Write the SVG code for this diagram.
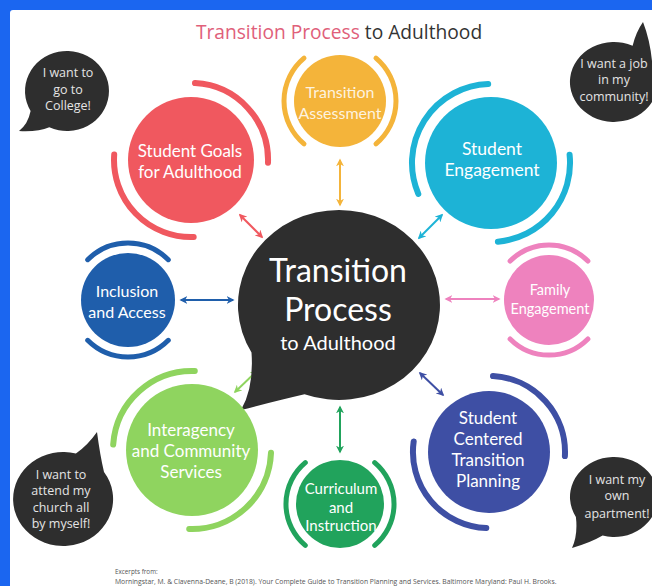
<svg xmlns="http://www.w3.org/2000/svg" width="652" height="586" viewBox="0 0 652 586">
  <style>
    .lbl { font-family: Lato, "Open Sans", "Liberation Sans", sans-serif; fill: #ffffff; text-anchor: middle; }
    .say { font-family: "Open Sans", "Noto Sans", "Liberation Sans", sans-serif; font-size: 12.5px; fill: #e4e4e4; text-anchor: middle; }
    .bub { fill: #2e2e2e; }
    .ring { fill: none; stroke-linecap: round; }
    .link { fill: none; stroke-width: 2; }
    .cite { font-family: "Open Sans", "Liberation Sans", sans-serif; fill: #555; }
  </style>
  <defs>
    <marker id="hd-yellow" viewBox="0 0 10 10" refX="8" refY="5" markerWidth="8" markerHeight="8" markerUnits="userSpaceOnUse" orient="auto-start-reverse"><path d="M0,0 L10,5 L0,10 L3,5 Z" fill="#f4b43a"/></marker>
    <marker id="hd-cyan" viewBox="0 0 10 10" refX="8" refY="5" markerWidth="8" markerHeight="8" markerUnits="userSpaceOnUse" orient="auto-start-reverse"><path d="M0,0 L10,5 L0,10 L3,5 Z" fill="#1db3d6"/></marker>
    <marker id="hd-pink" viewBox="0 0 10 10" refX="8" refY="5" markerWidth="8" markerHeight="8" markerUnits="userSpaceOnUse" orient="auto-start-reverse"><path d="M0,0 L10,5 L0,10 L3,5 Z" fill="#ee82be"/></marker>
    <marker id="hd-indigo" viewBox="0 0 10 10" refX="8" refY="5" markerWidth="8" markerHeight="8" markerUnits="userSpaceOnUse" orient="auto-start-reverse"><path d="M0,0 L10,5 L0,10 L3,5 Z" fill="#3e4fa4"/></marker>
    <marker id="hd-green" viewBox="0 0 10 10" refX="8" refY="5" markerWidth="8" markerHeight="8" markerUnits="userSpaceOnUse" orient="auto-start-reverse"><path d="M0,0 L10,5 L0,10 L3,5 Z" fill="#21a35c"/></marker>
    <marker id="hd-lime" viewBox="0 0 10 10" refX="8" refY="5" markerWidth="8" markerHeight="8" markerUnits="userSpaceOnUse" orient="auto-start-reverse"><path d="M0,0 L10,5 L0,10 L3,5 Z" fill="#8fd45f"/></marker>
    <marker id="hd-blue" viewBox="0 0 10 10" refX="8" refY="5" markerWidth="8" markerHeight="8" markerUnits="userSpaceOnUse" orient="auto-start-reverse"><path d="M0,0 L10,5 L0,10 L3,5 Z" fill="#1f5eab"/></marker>
    <marker id="hd-coral" viewBox="0 0 10 10" refX="8" refY="5" markerWidth="8" markerHeight="8" markerUnits="userSpaceOnUse" orient="auto-start-reverse"><path d="M0,0 L10,5 L0,10 L3,5 Z" fill="#f0585f"/></marker>
  </defs>

  <!-- frame -->
  <rect x="0" y="0" width="652" height="586" fill="#1b66f0"/>
  <rect x="10" y="10" width="650" height="584" rx="3" fill="#ffffff"/>

  <!-- title -->
  <text x="339" y="39" font-family="'Open Sans', 'Noto Sans', 'Liberation Sans', sans-serif" font-size="19.2" text-anchor="middle"><tspan fill="#e0607a">Transition Process</tspan><tspan fill="#333333"> to Adulthood</tspan></text>

  <!-- connectors -->
  <g id="connectors">
    <line class="link" x1="340" y1="160" x2="340" y2="205" stroke="#f4b43a" marker-start="url(#hd-yellow)" marker-end="url(#hd-yellow)"/>
    <line class="link" x1="419" y1="238" x2="442" y2="215" stroke="#1db3d6" marker-start="url(#hd-cyan)" marker-end="url(#hd-cyan)"/>
    <line class="link" x1="446" y1="299" x2="499" y2="299" stroke="#ee82be" marker-start="url(#hd-pink)" marker-end="url(#hd-pink)"/>
    <line class="link" x1="420" y1="373" x2="443" y2="395" stroke="#3e4fa4" marker-start="url(#hd-indigo)" marker-end="url(#hd-indigo)"/>
    <line class="link" x1="340" y1="407" x2="340" y2="452" stroke="#21a35c" marker-start="url(#hd-green)" marker-end="url(#hd-green)"/>
    <line class="link" x1="235" y1="392" x2="257" y2="371" stroke="#8fd45f" marker-start="url(#hd-lime)" marker-end="url(#hd-lime)"/>
    <line class="link" x1="181" y1="300" x2="233" y2="300" stroke="#1f5eab" marker-start="url(#hd-blue)" marker-end="url(#hd-blue)"/>
    <line class="link" x1="240" y1="215" x2="262" y2="237" stroke="#f0585f" marker-start="url(#hd-coral)" marker-end="url(#hd-coral)"/>
  </g>

  <!-- hub -->
  <g id="hub">
    <path class="bub" d="M251.5,352.5 Q254,388 241,410 Q276,401 304.5,394.3 A101,95 0 1 0 251.5,352.5 Z"/>
    <text class="lbl" x="338" y="282" font-size="32">Transition</text>
    <text class="lbl" x="338" y="321" font-size="32">Process</text>
    <text class="lbl" x="338" y="350" font-size="20">to Adulthood</text>
  </g>

  <g id="transition-assessment">
    <circle cx="340" cy="101" r="46" fill="#f4b43a"/>
    <path class="ring" stroke="#f4b43a" stroke-width="5" d="M304,143.9 A56,56 0 0 1 304,58.1 M376,58.1 A56,56 0 0 1 376,143.9"/>
    <text class="lbl" x="340" y="98" font-size="16" fill-opacity="0.85">Transition</text>
    <text class="lbl" x="340" y="119" font-size="16" fill-opacity="0.85">Assessment</text>
  </g>

  <g id="student-engagement">
    <circle cx="491" cy="163" r="66" fill="#1db3d6"/>
    <path class="ring" stroke="#1db3d6" stroke-width="6" d="M418.3,193.9 A79,79 0 0 1 488.2,84 M569.6,154.7 A79,79 0 0 1 497.9,241.7"/>
    <text class="lbl" x="492" y="155" font-size="17.5">Student</text>
    <text class="lbl" x="492" y="176" font-size="17.5">Engagement</text>
  </g>

  <g id="family-engagement">
    <circle cx="549" cy="300" r="45" fill="#ee82be"/>
    <path class="ring" stroke="#ee82be" stroke-width="5" d="M510.1,261.1 A55,55 0 0 1 587.9,261.1 M587.9,338.9 A55,55 0 0 1 510.1,338.9"/>
    <text class="lbl" x="550" y="295" font-size="14.5">Family</text>
    <text class="lbl" x="550" y="314" font-size="14.5">Engagement</text>
  </g>

  <g id="student-centered-planning">
    <circle cx="489" cy="452" r="61" fill="#3e4fa4"/>
    <path class="ring" stroke="#3e4fa4" stroke-width="6" d="M493,376.1 A76,76 0 0 1 564.9,456 M486.3,528 A76,76 0 0 1 413.7,441.4"/>
    <text class="lbl" x="488" y="424" font-size="17">Student</text>
    <text class="lbl" x="488" y="445" font-size="17">Centered</text>
    <text class="lbl" x="488" y="466" font-size="17">Transition</text>
    <text class="lbl" x="488" y="487" font-size="17">Planning</text>
  </g>

  <g id="curriculum-instruction">
    <circle cx="340" cy="504" r="44" fill="#21a35c"/>
    <path class="ring" stroke="#21a35c" stroke-width="5" d="M305.3,545.4 A54,54 0 0 1 305.3,462.6 M374.7,462.6 A54,54 0 0 1 374.7,545.4"/>
    <text class="lbl" x="341" y="494" font-size="15">Curriculum</text>
    <text class="lbl" x="341" y="513" font-size="15">and</text>
    <text class="lbl" x="341" y="531" font-size="15">Instruction</text>
  </g>

  <g id="interagency-services">
    <circle cx="192" cy="450" r="66" fill="#8fd45f"/>
    <path class="ring" stroke="#8fd45f" stroke-width="6" d="M113.2,444.5 A79,79 0 0 1 194.8,371 M271,452.8 A79,79 0 0 1 189.2,529"/>
    <text class="lbl" x="191" y="436" font-size="17">Interagency</text>
    <text class="lbl" x="191" y="457" font-size="17">and Community</text>
    <text class="lbl" x="191" y="478" font-size="17">Services</text>
  </g>

  <g id="inclusion-access">
    <circle cx="128" cy="300" r="47" fill="#1f5eab"/>
    <path class="ring" stroke="#1f5eab" stroke-width="5" d="M87.7,259.7 A57,57 0 0 1 168.3,259.7 M168.3,340.3 A57,57 0 0 1 87.7,340.3"/>
    <text class="lbl" x="127" y="297" font-size="16">Inclusion</text>
    <text class="lbl" x="127" y="318" font-size="16">and Access</text>
  </g>

  <g id="student-goals">
    <circle cx="191" cy="160" r="63" fill="#f0585f"/>
    <path class="ring" stroke="#f0585f" stroke-width="6" d="M195,83.1 A77,77 0 0 1 268,162.7 M193.7,237 A77,77 0 0 1 114.2,154.6"/>
    <text class="lbl" x="190" y="157" font-size="17">Student Goals</text>
    <text class="lbl" x="190" y="178" font-size="17">for Adulthood</text>
  </g>

  <!-- voices -->
  <g id="say-college">
    <path class="bub" d="M30.6,111 Q28,124 19,131 Q38,132 49.3,127.3 A42,40 0 1 0 30.6,111 Z"/>
    <text class="say" x="68" y="77">I want to</text>
    <text class="say" x="68" y="94">go to</text>
    <text class="say" x="68" y="110">College!</text>
  </g>

  <g id="say-job">
    <path class="bub" d="M632.6,45.7 Q636,32 643,22 Q650,40 652.1,62 A44,40 0 1 1 632.6,45.7 Z"/>
    <text class="say" x="614" y="68">I want a job</text>
    <text class="say" x="614" y="84">in my</text>
    <text class="say" x="614" y="101">community!</text>
  </g>

  <g id="say-church">
    <path class="bub" d="M75.9,453.6 Q88,445 97,432 Q100,455 104,472 A50,47 0 1 1 75.9,453.6 Z"/>
    <text class="say" x="61" y="479">I want to</text>
    <text class="say" x="61" y="495">attend my</text>
    <text class="say" x="61" y="512">church all</text>
    <text class="say" x="61" y="528">by myself!</text>
  </g>

  <g id="say-apartment">
    <path class="bub" d="M575.9,517 Q578,535 572,548 Q590,543 602.6,535.6 A44,40 0 1 0 575.9,517 Z"/>
    <text class="say" x="617" y="484">I want my</text>
    <text class="say" x="617" y="500">own</text>
    <text class="say" x="617" y="518">apartment!</text>
  </g>

  <!-- source note -->
  <text class="cite" x="115" y="574" font-size="6.3">Excerpts from:</text>
  <text class="cite" x="115" y="583.5" font-size="6.8">Morningstar, M. &amp; Clavenna-Deane, B (2018). Your Complete Guide to Transition Planning and Services. Baltimore Maryland: Paul H. Brooks.</text>
</svg>
